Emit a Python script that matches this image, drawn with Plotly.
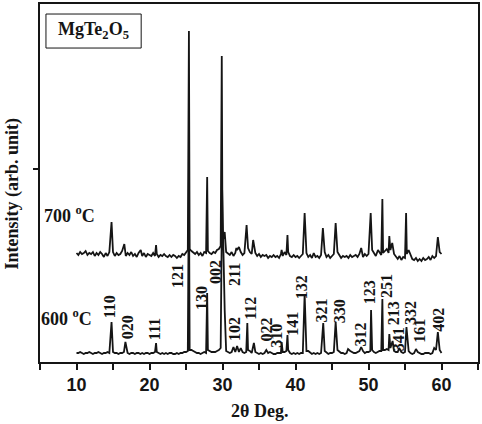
import numpy as np
import plotly.graph_objects as go

# ---------------- data ----------------
# baseline readings every 0.25 deg from 10 to 60 (arb. units)
two_theta_start, two_theta_step = 10.0, 0.25
base_600 = [
    9, 9, 10, 9,   8, 9, 9, 10,   9, 8, 9, 9,   10, 9, 8, 9,   9, 10, 9, 11,
    10, 9, 9, 8,   9, 9, 10, 9,   9, 8, 9, 9,   8, 9, 9, 8,    9, 8, 9, 9,
    8, 9, 9, 10,   10, 9, 8, 9,   8, 9, 8, 9,   9, 8, 8, 9,    8, 9, 9, 10,
    10, 11, 12, 12, 11, 10, 9, 9, 8, 9, 10, 9,  12, 11, 10, 10, 10, 11, 12, 14,
    16, 14, 11, 10, 9, 10, 11, 10, 11, 10, 12, 10, 9, 10, 12, 11, 9, 10, 10, 9,
    8, 9, 8, 9,    8, 9, 10, 9,   8, 8, 9, 9,   9, 10, 10, 11,  12, 9, 8, 9,
    8, 9, 8, 9,    9, 10, 11, 11, 9, 8, 9, 8,   9, 8, 9, 10,   11, 9, 8, 9,
    9, 10, 11, 12, 10, 9, 9, 8,   9, 10, 11, 10, 9, 9, 10, 11,  10, 11, 9, 10,
    10, 11, 12, 10, 9, 10, 11, 11, 12, 12, 13, 12, 14, 13, 11, 10, 10, 11, 10, 9,
    10, 12, 11, 9, 8, 9, 9, 10,   9, 8, 8, 9,   9, 9, 8, 9,    10, 12, 14, 12,
    9,
]
base_700 = [
    9, 7, 10, 8,   9, 11, 7, 9,   8, 10, 6, 9,  7, 10, 8, 5,   9, 6, 10, 8,
    10, 6, 9, 7,   8, 11, 8, 6,   9, 7, 10, 6,  8, 5, 9, 7,    6, 9, 5, 8,
    7, 6, 9, 6,    8, 5, 7, 6,    8, 6, 5, 7,   5, 7, 6, 4,    6, 5, 8, 7,
    10, 12, 13, 11, 9, 8, 10, 7,  9, 6, 10, 9,  11, 9, 8, 10,  9, 12, 13, 16,
    20, 14, 10, 8, 7, 10, 6, 9,   12, 8, 10, 7, 9, 12, 14, 10, 8, 11, 9, 6,
    8, 5, 7, 6,    7, 4, 6, 5,    7, 5, 6, 4,   8, 6, 10, 7,   10, 6, 5, 7,
    5, 6, 4, 6,    8, 11, 9, 5,   7, 4, 9, 5,   6, 4, 7, 9,    10, 5, 7, 4,
    6, 8, 12, 10,  7, 4, 6, 5,    6, 4, 7, 5,   6, 7, 5, 8,    7, 5, 8, 6,
    8, 10, 12, 9,  6, 8, 10, 7,   9, 11, 13, 9, 12, 10, 8, 5,  3, 6, 2, 5,
    4, 8, 12, 7,   3, 2, 4, 1,    3, 1, 4, 2,   3, 5, 2, 6,    4, 6, 8, 10,
    8,
]

# diffraction peaks: (2theta, intensity)
peaks_600 = [
    (14.8, 40), (16.7, 20), (20.9, 19), (25.4, 187), (27.9, 69), (29.95, 172),
    (30.3, 52), (31.5, 15), (32.0, 16), (32.5, 14), (33.4, 39), (34.3, 19),
    (36.0, 12), (38.1, 20), (38.9, 27), (41.25, 68), (43.8, 39), (45.5, 40),
    (47.2, 13), (49.0, 15), (50.35, 52), (51.9, 63), (52.85, 28), (53.3, 21),
    (54.2, 14), (55.2, 35), (56.5, 13), (59.0, 14), (59.5, 30),
]
peaks_700 = [
    (14.8, 40), (16.55, 18), (18.8, 12), (20.9, 17), (25.4, 231), (27.9, 85),
    (29.9, 206), (30.3, 30), (31.9, 14), (32.25, 15), (33.3, 37), (34.2, 22),
    (38.1, 12), (38.9, 27), (41.25, 49), (43.75, 34), (45.5, 39), (49.0, 14),
    (50.3, 49), (51.3, 12), (51.9, 63), (52.85, 26), (53.25, 19), (55.15, 49),
    (59.5, 25),
]
offset_700 = 100

hkl_labels = ["110", "020", "111", "121", "130", "002", "211", "102", "112", "022",
              "310", "141", "132", "321", "330", "312", "123", "251", "213", "341",
              "332", "161", "402"]
hkl_x = [14.5, 16.96, 20.64, 23.78, 27.05, 28.96, 31.56, 31.56, 33.74, 35.9,
         37.3, 39.5, 40.8, 43.56, 46.0, 48.9, 50.1, 52.4, 53.4, 54.07,
         55.7, 56.9, 59.5]
hkl_y = [55, 35, 33, 86, 64, 90, 88, 33, 54, 32,
         26, 38, 75, 52, 51, 28, 70, 76, 49, 23,
         49, 31, 42]


def build(base, peaks, offset=0):
    grid = [two_theta_start + i * two_theta_step for i in range(len(base))]
    pts = [(g, v) for g, v in zip(grid, base)
           if all(abs(g - p) > 0.08 for p, _ in peaks)]
    pts += list(peaks)
    pts.sort()
    return [p[0] for p in pts], [p[1] + offset for p in pts]


x6, y6 = build(base_600, peaks_600)
x7, y7 = build(base_700, peaks_700, offset_700)

INK = "#151515"
fig = go.Figure()
for xs, ys in ((x6, y6), (x7, y7)):
    fig.add_trace(go.Scatter(x=xs, y=ys, mode="lines",
                             line=dict(color=INK, width=1.8),
                             showlegend=False, hoverinfo="skip"))

serif = "Liberation Serif"
for t, x, y in zip(hkl_labels, hkl_x, hkl_y):
    fig.add_annotation(x=x, y=y, text="<b>" + t + "</b>", textangle=-90, showarrow=False,
                       xanchor="center", yanchor="middle",
                       font=dict(family=serif, size=16, color=INK))

fig.add_annotation(x=8.64, y=45, text="<b>600 <sup>o</sup>C</b>", showarrow=False,
                   xanchor="center", yanchor="middle",
                   font=dict(family=serif, size=18, color=INK))
fig.add_annotation(x=9.1, y=148, text="<b>700 <sup>o</sup>C</b>", showarrow=False,
                   xanchor="center", yanchor="middle",
                   font=dict(family=serif, size=18, color=INK))

# compound label box
fig.add_shape(type="rect", xref="paper", yref="paper",
              x0=0.0136, x1=0.231, y0=0.877, y1=0.972,
              line=dict(color=INK, width=1))
fig.add_annotation(xref="paper", yref="paper", x=0.122, y=0.925,
                   xanchor="center", yanchor="middle",
                   text="<b>MgTe<sub>2</sub>O<sub>5</sub></b>", showarrow=False,
                   font=dict(family=serif, size=18, color=INK))

# axis titles
fig.add_annotation(xref="paper", yref="paper", x=-0.062, y=0.47,
                   xanchor="center", yanchor="middle",
                   text="<b>Intensity (arb. unit)</b>", textangle=-90, showarrow=False,
                   font=dict(family=serif, size=18, color=INK))
fig.add_annotation(xref="paper", yref="paper", x=0.5, y=-0.137,
                   xanchor="center", yanchor="middle",
                   text="<b>2θ Deg.</b>", showarrow=False,
                   font=dict(family=serif, size=18, color=INK))

fig.update_xaxes(range=[5, 65], tick0=0, dtick=10,
                 ticks="outside", ticklen=6, tickwidth=1.5, tickcolor=INK,
                 minor=dict(dtick=5, tick0=0, ticks="outside", ticklen=6, tickwidth=1.5,
                            tickcolor=INK, showgrid=False),
                 showline=True, linecolor=INK, linewidth=1.5, mirror=True,
                 showgrid=False, zeroline=False, tickprefix="<b>", ticksuffix="</b>",
                 tickfont=dict(family="Liberation Sans", size=18, color=INK))
fig.update_yaxes(range=[0, 358], tickmode="array", tickvals=[193], showticklabels=False,
                 ticks="outside", ticklen=5, tickwidth=1.5, tickcolor=INK,
                 showline=True, linecolor=INK, linewidth=1.5, mirror=True,
                 showgrid=False, zeroline=False)

fig.update_layout(width=482, height=424, margin=dict(l=40, r=2, t=4, b=62),
                  paper_bgcolor="white", plot_bgcolor="white")

fig.write_html("out.html")
